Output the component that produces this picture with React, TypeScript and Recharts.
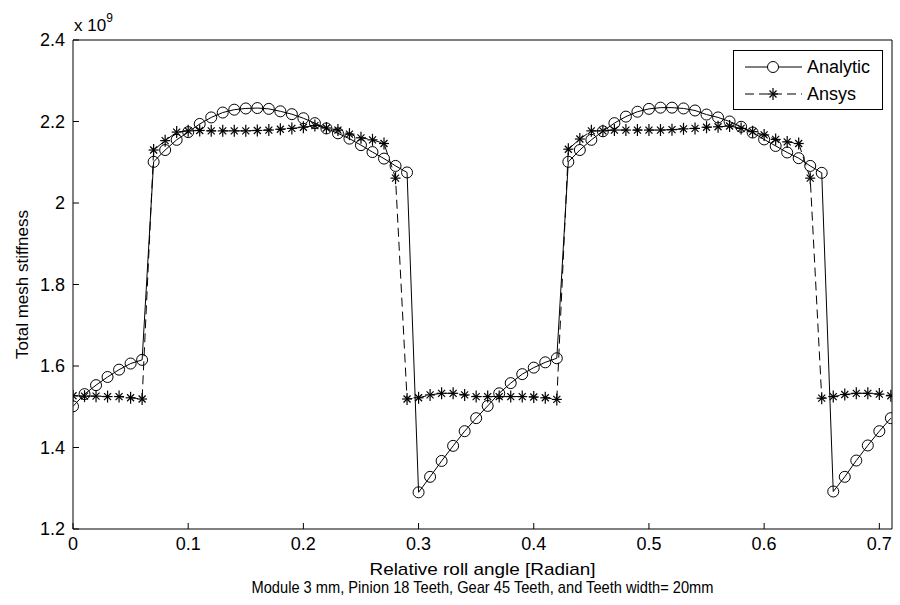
import { LineChart, Line, XAxis, YAxis, Legend, Label } from 'recharts';

// relative roll angle [rad]
const ANGLE = [
  0.0, 0.01, 0.02, 0.03, 0.04, 0.05, 0.06, 0.07, 0.08, 0.09,
  0.1, 0.11, 0.12, 0.13, 0.14, 0.15, 0.16, 0.17, 0.18, 0.19,
  0.2, 0.21, 0.22, 0.23, 0.24, 0.25, 0.26, 0.27, 0.28, 0.29,
  0.3, 0.31, 0.32, 0.33, 0.34, 0.35, 0.36, 0.37, 0.38, 0.39,
  0.4, 0.41, 0.42, 0.43, 0.44, 0.45, 0.46, 0.47, 0.48, 0.49,
  0.5, 0.51, 0.52, 0.53, 0.54, 0.55, 0.56, 0.57, 0.58, 0.59,
  0.6, 0.61, 0.62, 0.63, 0.64, 0.65, 0.66, 0.67, 0.68, 0.69,
  0.7, 0.71,
];

// total mesh stiffness, x 10^9
const ANALYTIC = [
  1.501, 1.531, 1.553, 1.573, 1.591, 1.606, 1.615, 2.101, 2.13, 2.155,
  2.174, 2.194, 2.21, 2.222, 2.229, 2.232, 2.233, 2.231, 2.225, 2.218,
  2.208, 2.196, 2.183, 2.171, 2.158, 2.142, 2.125, 2.109, 2.091, 2.075,
  1.29, 1.328, 1.367, 1.404, 1.44, 1.472, 1.502, 1.533, 1.558, 1.58,
  1.596, 1.609, 1.619, 2.101, 2.13, 2.155, 2.176, 2.196, 2.212, 2.224,
  2.231, 2.234, 2.234, 2.232, 2.227, 2.217, 2.21, 2.2, 2.187, 2.173,
  2.156, 2.14, 2.124, 2.11, 2.091, 2.074, 1.292, 1.328, 1.368, 1.405,
  1.44, 1.472,
];

const ANSYS = [
  1.527, 1.526, 1.526, 1.525, 1.525, 1.522, 1.519, 2.13, 2.153, 2.174,
  2.177, 2.178, 2.177, 2.177, 2.177, 2.177, 2.178, 2.179, 2.181, 2.183,
  2.186, 2.19, 2.184, 2.179, 2.169, 2.16, 2.155, 2.146, 2.061, 1.519,
  1.522, 1.529, 1.533, 1.533, 1.529, 1.525, 1.525, 1.525, 1.525, 1.525,
  1.524, 1.522, 1.518, 2.132, 2.157, 2.177, 2.177, 2.179, 2.179, 2.179,
  2.179, 2.179, 2.18, 2.182, 2.183, 2.186, 2.187, 2.189, 2.183, 2.175,
  2.167, 2.156, 2.15, 2.146, 2.061, 1.521, 1.525, 1.53, 1.533, 1.533,
  1.531, 1.527,
];

const X_TICKS = [0, 0.1, 0.2, 0.3, 0.4, 0.5, 0.6, 0.7];
const Y_TICKS = [1.2, 1.4, 1.6, 1.8, 2, 2.2, 2.4];

const rows = ANGLE.map((a, i) => ({ angle: a, analytic: ANALYTIC[i], ansys: ANSYS[i] }));

const FONT = '"Liberation Sans", Arial, sans-serif';
const tickStyle = { fontSize: 18, fill: '#000', fontFamily: FONT };

const Star = ({ cx, cy }: { cx: number; cy: number }) => (
  <g stroke="#000" strokeWidth={1.2}>
    <line x1={cx - 5} y1={cy} x2={cx + 5} y2={cy} />
    <line x1={cx} y1={cy - 6} x2={cx} y2={cy + 6} />
    <line x1={cx - 3.5} y1={cy - 3.5} x2={cx + 3.5} y2={cy + 3.5} />
    <line x1={cx - 3.5} y1={cy + 3.5} x2={cx + 3.5} y2={cy - 3.5} />
  </g>
);

const circleDot = (p: any) => (
  <circle key={`c${p.index}`} cx={p.cx} cy={p.cy} r={5.5} fill="none" stroke="#000" strokeWidth={1} />
);

const starDot = (p: any) => <Star key={`s${p.index}`} cx={p.cx} cy={p.cy} />;

const legendBox = () => (
  <svg width={150} height={60} style={{ display: 'block' }}>
    <rect x={0.5} y={0.5} width={149} height={59} fill="#fff" stroke="#000" />
    <line x1={12} y1={17} x2={69} y2={17} stroke="#000" />
    <circle cx={40} cy={17} r={5.5} fill="#fff" stroke="#000" />
    <text x={74} y={17} dominantBaseline="central" fontSize={18} fontFamily={FONT}>Analytic</text>
    <line x1={12} y1={44} x2={69} y2={44} stroke="#000" strokeDasharray="9 5" />
    <Star cx={40} cy={44} />
    <text x={74} y={44} dominantBaseline="central" fontSize={18} fontFamily={FONT}>Ansys</text>
  </svg>
);

// y axis area is 60 px wide, its right edge is the plot's left edge
const yLabel = (props: any) => {
  const { x, y, width, height } = props.viewBox;
  const ax = x + width;
  return (
    <g fontFamily={FONT} fill="#000">
      <text
        x={ax - 51}
        y={y + height / 2}
        transform={`rotate(-90 ${ax - 51} ${y + height / 2})`}
        textAnchor="middle"
        dominantBaseline="central"
        fontSize={17}
      >
        Total mesh stiffness
      </text>
      <text x={ax + 1} y={y - 9} fontSize={17}>
        x 10
        <tspan dy={-9} fontSize={12}>9</tspan>
      </text>
    </g>
  );
};

const xLabel = (props: any) => {
  const { x, y, width } = props.viewBox;
  const cx = x + width / 2;
  return (
    <g fontFamily={FONT} fill="#000" fontSize={17} textAnchor="middle">
      <text x={cx} y={y + 46} textLength={226} lengthAdjust="spacingAndGlyphs">
        Relative roll angle [Radian]
      </text>
      <text x={cx} y={y + 64} textLength={462} lengthAdjust="spacingAndGlyphs">
        Module 3 mm, Pinion 18 Teeth, Gear 45 Teeth, and Teeth width= 20mm
      </text>
    </g>
  );
};

export default function App() {
  return (
    <div style={{ position: 'absolute', left: 0, top: 0, background: '#fff', fontFamily: FONT }}>
      <LineChart width={900} height={605} data={rows} margin={{ top: 39, right: 7, bottom: 46, left: 13 }}>
        <XAxis
          dataKey="angle"
          type="number"
          domain={[0, 0.711]}
          ticks={X_TICKS}
          allowDataOverflow
          height={30}
          tickSize={-6}
          tickMargin={14}
          tick={tickStyle}
          axisLine={{ stroke: '#000' }}
          tickLine={{ stroke: '#000' }}
          label={<Label content={xLabel} />}
        />
        <XAxis
          xAxisId="top"
          orientation="top"
          type="number"
          domain={[0, 0.711]}
          ticks={X_TICKS}
          allowDataOverflow
          height={1}
          tickSize={-6}
          tick={false}
          axisLine={{ stroke: '#000' }}
          tickLine={{ stroke: '#000' }}
        />
        <YAxis
          type="number"
          domain={[1.2, 2.4]}
          ticks={Y_TICKS}
          allowDataOverflow
          width={60}
          tickSize={-6}
          tickMargin={14}
          tick={tickStyle}
          axisLine={{ stroke: '#000' }}
          tickLine={{ stroke: '#000' }}
          label={<Label content={yLabel} />}
        />
        <YAxis
          yAxisId="right"
          orientation="right"
          type="number"
          domain={[1.2, 2.4]}
          ticks={Y_TICKS}
          allowDataOverflow
          width={1}
          tickSize={-6}
          tick={false}
          axisLine={{ stroke: '#000' }}
          tickLine={{ stroke: '#000' }}
        />
        <Legend
          layout="horizontal"
          verticalAlign="middle"
          content={legendBox}
          wrapperStyle={{ top: 50, left: 733, width: 150, height: 60 }}
        />
        <Line
          type="linear"
          dataKey="analytic"
          name="Analytic"
          stroke="#000"
          strokeWidth={1}
          dot={circleDot}
          activeDot={false}
          isAnimationActive={false}
        />
        <Line
          type="linear"
          dataKey="ansys"
          name="Ansys"
          stroke="#000"
          strokeWidth={1}
          strokeDasharray="9 5"
          dot={starDot}
          activeDot={false}
          isAnimationActive={false}
        />
      </LineChart>
    </div>
  );
}
